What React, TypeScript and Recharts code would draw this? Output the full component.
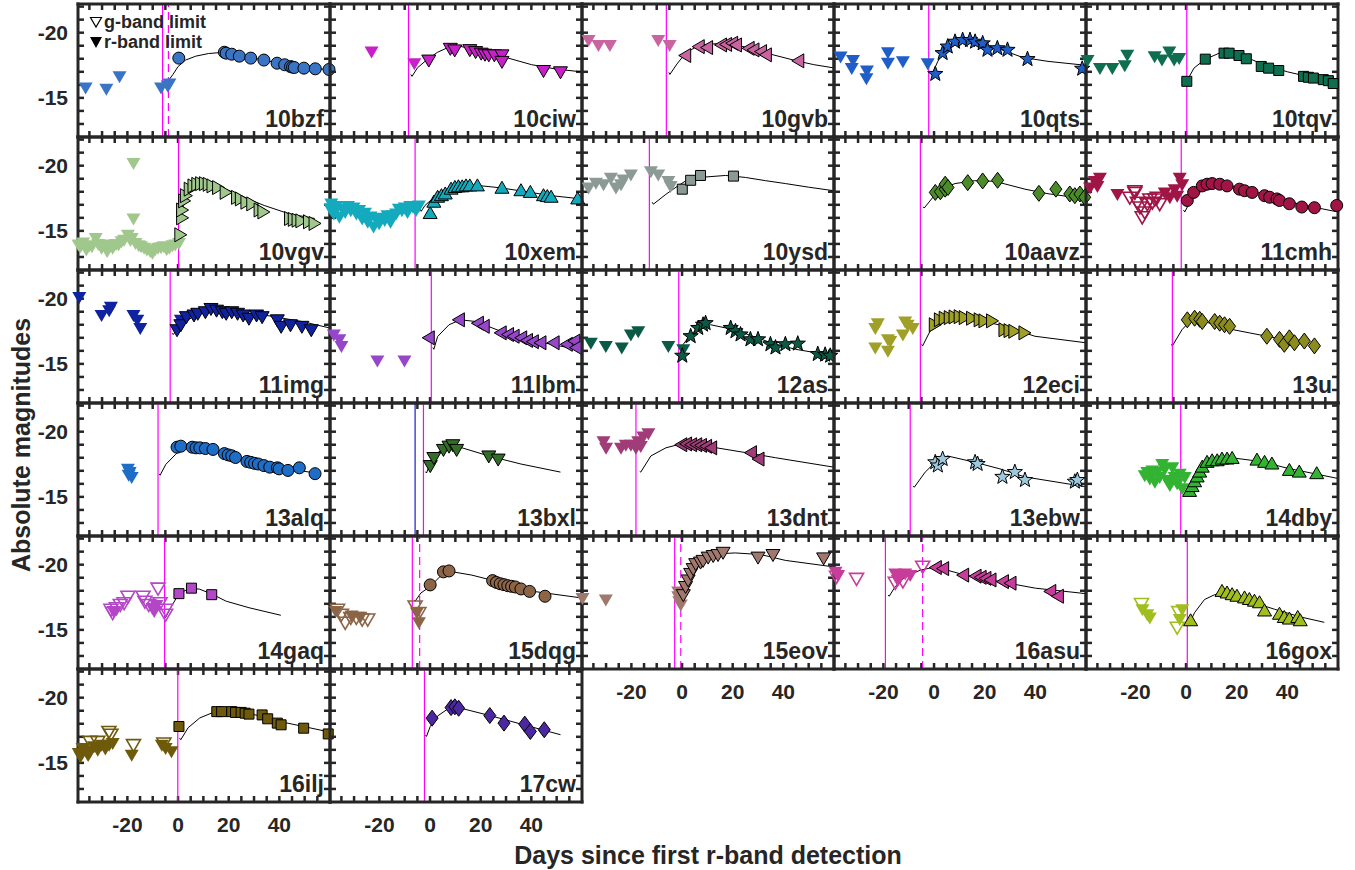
import React from 'react';
import { ComposedChart, Scatter, Line, XAxis, YAxis, ReferenceLine } from 'recharts';

type P = [number, number];

const FONT = "'Liberation Sans', Arial, Helvetica, sans-serif";
const INK = '#262626';
const X_DOMAIN: [number, number] = [-39.5, 60];
const Y_DOMAIN: [number, number] = [-22.2, -12];
const X_MINOR = [-35, -30, -25, -20, -15, -10, -5, 0, 5, 10, 15, 20, 25, 30, 35, 40, 45, 50, 55];
const Y_MINOR = [-22, -21, -20, -19, -18, -17, -16, -15, -14, -13];
const X_LABELS = [-20, 0, 20, 40];
const Y_LABELS = [-20, -15];

const names = ['10bzf', '10ciw', '10gvb', '10qts', '10tqv', '10vgv', '10xem', '10ysd', '10aavz', '11cmh',
  '11img', '11lbm', '12as', '12eci', '13u', '13alq', '13bxl', '13dnt', '13ebw', '14dby',
  '14gaq', '15dqg', '15eov', '16asu', '16gox', '16ilj', '17cw'];

const colors = ['#3a75c5', '#c820c8', '#c864a0', '#1f5ec8', '#0f6e50', '#a0c88c', '#14aabe', '#8c9a96', '#4b8c28', '#a01446',
  '#0f23a0', '#9646c8', '#0a5a46', '#a0a028', '#8c8c1e', '#1e6ec8', '#326e28', '#a03c78', '#9ec8dc', '#32b432',
  '#b446c8', '#8c6446', '#a0786e', '#c83c9b', '#a0be1e', '#6e5a0a', '#4b28a0'];

// o circle, s square, d diamond, p star, v ^ < > triangles
const markers = ['o', 'v', '<', 'p', 's', '>', '^', 's', 'd', 'o',
  'v', '<', 'p', '>', 'd', 'o', 'v', '<', 'p', '^',
  's', 'o', 'v', '<', '^', 's', 'd'];

// first-light epochs (days)
const epochSolid = [-6.1, -8.5, -6.2, -2.1, 0.3, 0.2, -5.9, -12.9, -5.4, -1.9,
  -3.1, 0.5, -1.3, -5.4, -5.4, -7.9, -2.6, -18.2, -9.4, -2.1,
  -5.3, -7.0, -2.9, -19.2, 0.5, -0.1, -2.2];
const epochDashed: (number | null)[] = [-3.8, null, null, null, null, null, null, null, null, null,
  null, null, null, null, null, null, null, null, null, null,
  null, -4.1, -0.5, -4.5, null, null, null];
const epochBlue: (number | null)[] = [null, null, null, null, null, null, null, null, null, null,
  null, null, null, null, null, null, -5.9, null, null, null,
  null, null, null, null, null, null, null];

// ---- 10bzf
const bzfDet: P[] = [[0.3, -18.05], [18.3, -18.5], [19, -18.43], [21.2, -18.35], [24.2, -18.2], [28.7, -18.05], [33.9, -17.9], [39.1, -17.66], [42.1, -17.54], [44.4, -17.4], [45.2, -17.36], [45.9, -17.33], [49.7, -17.28], [54.2, -17.23], [59.6, -17.18]];
const bzfR: P[] = [[-36.5, -15.8], [-28.3, -15.7], [-23.1, -16.65], [-6.7, -15.8], [-4.1, -15.95], [-3.4, -16.1]];
const bzfModel: P[] = [[-4.6, -16.45], [-4.1, -16.25], [-2, -16.8], [0, -17.4], [3, -17.9], [7, -18.2], [12, -18.4], [18, -18.5], [25, -18.25], [35, -17.85], [45, -17.45], [52, -17.3], [60, -17.15]];
// ---- 10ciw
const ciwDet: P[] = [[-0.5, -17.9], [8, -18.8], [9.75, -18.68], [15.7, -18.7], [18, -18.55], [20.2, -18.43], [21.7, -18.35], [23.2, -18.3], [25.4, -18.3], [28.4, -18.3], [28.4, -17.8], [44.8, -17.1], [51.5, -17.0]];
const ciwR: P[] = [[-23.1, -18.55], [-6.2, -17.66]];
const ciwModel: P[] = [[-7.6, -16.8], [-7.1, -16.65], [-5, -17.3], [-2, -17.8], [0, -18.1], [3, -18.5], [7.5, -18.9], [12, -18.95], [20, -18.6], [30, -18.1], [40, -17.55], [50, -17.2], [59.8, -17.0]];
// ---- 10gvb
const gvbDet: P[] = [[1.05, -18.25], [6.4, -18.93], [9.7, -18.86], [15.2, -19.06], [17.2, -19.1], [19.6, -19.19], [21.1, -19.06], [26.1, -18.8], [28, -18.68], [31, -18.55], [32.9, -18.3], [45.7, -17.84]];
const gvbR: P[] = [[-36.9, -19.44], [-33, -19.06], [-28.5, -19.06], [-9.4, -19.44], [-4.9, -19.06]];
const gvbModel: P[] = [[-5.2, -16.95], [-4.8, -16.8], [-2, -17.6], [1.4, -18.43], [5, -18.85], [9.3, -19.1], [17.2, -19.2], [25, -18.9], [35, -18.35], [45, -17.85], [52, -17.55], [59.9, -17.3]];
// ---- 10qts
const qtsDet: P[] = [[0.5, -16.83], [3.4, -18.43], [5.4, -18.93], [8.3, -19.3], [11.3, -19.43], [14.2, -19.43], [16.2, -19.3], [19.2, -19.18], [21.1, -18.68], [25, -18.8], [29, -18.68], [36.9, -17.97], [58.5, -17.23]];
const qtsR: P[] = [[-36.9, -18.17], [-32, -17.9], [-32.5, -17.3], [-26.7, -16.5], [-26.5, -17.1], [-18.2, -18.5], [-18.2, -17.7], [-12.3, -17.8], [-2.5, -17.66]];
const qtsModel: P[] = [[-1, -17.05], [-0.5, -16.95], [1.5, -17.8], [4, -18.6], [8, -19.2], [12.3, -19.4], [17, -19.35], [22, -19.0], [28, -18.6], [35, -18.1], [45, -17.8], [59.9, -17.5]];
// ---- 10tqv
const tqvDet: P[] = [[0.3, -16.27], [7.6, -17.97], [15, -18.43], [17, -18.43], [20.9, -18.25], [23.8, -18.0], [29.7, -17.41], [32.6, -17.28], [36.6, -17.1], [46.4, -16.65], [48.3, -16.58], [50.3, -16.52], [54.2, -16.4], [56.2, -16.32], [58.1, -16.1]];
const tqvR: P[] = [[-38.9, -17.9], [-34, -17.3], [-29.1, -17.3], [-24.2, -17.5], [-23.2, -18.3], [-12.4, -18.2], [-9.5, -17.95], [-6.6, -18.55], [-4.7, -17.95], [-2.7, -18.05]];
const tqvModel: P[] = [[0.3, -16.3], [3.2, -17.3], [7.5, -17.95], [13.1, -18.43], [20.9, -18.35], [30, -17.6], [40, -17.0], [50, -16.55], [60, -16.1]];
// ---- 10vgv
const vgvDet: P[] = [[1.1, -14.7], [1.8, -16.0], [1.8, -16.6], [2.6, -17.3], [3.3, -17.7], [4.8, -18.2], [6.3, -18.45], [7.8, -18.57], [9.3, -18.62], [10.8, -18.62], [12.3, -18.57], [13.8, -18.45], [16, -18.32], [19, -17.95], [23.5, -17.57], [25, -17.45], [27.2, -17.2], [29.5, -17.07], [32.4, -16.6], [33.9, -16.45], [44.4, -15.95], [45.9, -15.88], [47.4, -15.82], [48.9, -15.77], [51.9, -15.7], [54.1, -15.57]];
const vgvR: P[] = [[-39.3, -13.95], [-38.5, -13.82], [-37.5, -14.1], [-36.2, -13.58], [-35, -13.9], [-34, -13.82], [-32.5, -14.45], [-31.5, -14.0], [-30.2, -13.7], [-29, -13.95], [-28, -13.45], [-27, -13.8], [-25.8, -13.7], [-24.5, -14.0], [-23.5, -13.95], [-22.3, -14.2], [-21.3, -14.32], [-19.8, -14.7], [-18.8, -14.3], [-18.3, -14.45], [-17.6, -15.95], [-17.6, -20.2], [-16.8, -14.08], [-15.5, -13.9], [-14.6, -13.82], [-13.4, -13.7], [-12.3, -13.58], [-11, -13.45], [-10.1, -13.32], [-9, -13.6], [-7.9, -13.7], [-6.7, -13.75], [-5.6, -13.82], [-4.5, -13.6], [-3.4, -13.7], [-2.2, -13.9], [-1.1, -13.95], [0.35, -14.08]];
const vgvModel: P[] = [[-0.6, -15.9], [-0.2, -15.75], [1.5, -16.6], [4, -17.8], [7, -18.45], [10, -18.7], [14, -18.6], [20, -18.1], [27, -17.5], [34, -16.95], [44, -16.3], [54, -15.95]];
// ---- 10xem
const xemDet: P[] = [[0.05, -16.33], [1.5, -17.2], [3, -17.58], [4.5, -17.7], [6, -17.83], [8.3, -18.2], [9.8, -18.33], [11.2, -18.38], [12.7, -18.38], [14.2, -18.45], [15.7, -18.45], [18.7, -18.45], [28.4, -18.27], [35.9, -18.08], [39.6, -17.95], [44.8, -17.7], [46.3, -17.63], [47.8, -17.58], [58.3, -17.45]];
const xemR: P[] = [[-39.3, -16.7], [-39, -17.1], [-38, -16.33], [-37, -16.9], [-35.8, -16.08], [-34.6, -16.7], [-33.5, -16.45], [-32.4, -16.9], [-31.3, -16.58], [-30.2, -16.8], [-29.1, -16.33], [-28, -16.6], [-26.8, -15.95], [-25.7, -16.4], [-24.6, -15.7], [-23.5, -16.1], [-22.3, -15.33], [-21.2, -15.9], [-20.1, -15.58], [-19, -16.0], [-17.9, -15.83], [-16.8, -16.2], [-15.6, -15.7], [-14.5, -16.2], [-13.4, -16.33], [-12.3, -16.7], [-11.1, -16.58], [-10, -16.8], [-8.9, -16.45], [-7.8, -16.9], [-6.7, -16.83], [-5.5, -16.6], [-4.4, -16.95]];
const xemModel: P[] = [[-4, -16.7], [-3.5, -16.5], [-2, -16.95], [0, -17.3], [3, -17.75], [7, -18.15], [12, -18.4], [18, -18.5], [28, -18.3], [38, -18.0], [48, -17.7], [59.8, -17.45]];
// ---- 10ysd
const ysdDet: P[] = [[0.1, -18.2], [3.4, -18.88], [7.3, -19.25], [20.3, -19.2]];
const ysdR: P[] = [[-36.9, -18.33], [-34, -18.7], [-31, -18.58], [-28.1, -19.08], [-26.1, -18.33], [-24.1, -18.58], [-23.2, -18.95], [-20.2, -19.33], [-12.3, -19.58], [-9.4, -19.33], [-5.4, -18.83], [-4.5, -18.45]];
const ysdModel: P[] = [[-11.8, -17.2], [-11.3, -17.05], [-6.4, -17.8], [-2, -18.4], [1.4, -18.83], [7, -19.1], [17.2, -19.25], [25, -19.1], [33, -18.85], [40.8, -18.63], [50, -18.35], [59.9, -18.08]];
// ---- 10aavz
const aavzDet: P[] = [[0.5, -17.95], [2.5, -18.0], [4.4, -18.2], [4.4, -18.58], [5.5, -18.33], [13.3, -18.7], [19.2, -18.83], [25.1, -18.88], [41.4, -17.88], [48.1, -18.2], [53.6, -17.83], [55.6, -17.7], [57.6, -17.83], [59.5, -17.58]];
const aavzModel: P[] = [[-4.3, -16.85], [-3.9, -16.75], [0.5, -17.8], [4, -18.3], [8.3, -18.63], [16, -18.85], [24, -18.8], [35.9, -18.2], [45, -17.85], [59.9, -17.45]];
// ---- 11cmh
const cmhDet: P[] = [[0.5, -17.33], [3.0, -17.95], [6.4, -18.45], [8.3, -18.58], [10.3, -18.63], [13.3, -18.58], [16.2, -18.45], [21.1, -18.2], [23.1, -18.08], [26.1, -17.95], [31, -17.7], [33, -17.58], [35.9, -17.45], [36.9, -17.33], [40.8, -17.08], [45.7, -16.83], [50.7, -16.78], [59.5, -16.95]];
const cmhR: P[] = [[-37.9, -18.33], [-36, -18.83], [-34, -19.08], [-35, -18.45], [-27.1, -17.83], [-8.4, -17.95], [-6.4, -17.58], [-4.5, -18.2], [-2.5, -19.08], [-1.5, -18.58], [-3.5, -17.7]];
const cmhG: P[] = [[-22.2, -17.58], [-20.2, -17.95], [-19.2, -17.2], [-18.2, -16.83], [-17.3, -16.08], [-16.3, -16.45], [-15.3, -17.08], [-14.3, -17.45], [-13.3, -17.2], [-12.3, -17.45], [-11.4, -17.58], [-10.4, -17.08], [-20.2, -18.08]];
const cmhModel: P[] = [[-1, -16.6], [-0.5, -16.45], [1.5, -17.2], [5.4, -17.95], [9.4, -18.45], [15.4, -18.58], [25.3, -18.08], [35.2, -17.58], [45, -17.03], [60, -16.45]];
// ---- 11img
const imgDet: P[] = [[-0.4, -17.62], [1.1, -18.0], [3.3, -18.62], [6.3, -18.75], [7.8, -18.88], [10.8, -19.0], [13, -19.25], [15.2, -19.12], [17.5, -19.0], [19, -18.88], [21.2, -19.0], [23.5, -18.88], [25.7, -18.75], [28, -18.5], [31, -18.75], [33.2, -18.62], [39.2, -18.38], [40.7, -17.88], [44.4, -18.0], [48.9, -17.88], [52.6, -17.62]];
const imgR: P[] = [[-39, -20.12], [-30.2, -18.75], [-27.2, -19.12], [-26.5, -19.38], [-17.6, -18.75], [-16.1, -18.38], [-14.9, -17.75], [1.1, -18.38]];
const imgModel: P[] = [[-2.3, -17.35], [-1.9, -17.25], [1.1, -18.0], [7, -18.75], [13, -19.12], [22, -19.0], [33.9, -18.75], [48.9, -18.25], [60, -17.75]];
// ---- 11lbm
const lbmDet: P[] = [[-0.7, -17.0], [11.2, -18.38], [18.7, -18.12], [21, -17.88], [27.7, -17.38], [30.6, -17.25], [32.8, -17.12], [35.8, -17.0], [38.1, -16.8], [40.4, -16.7], [43.4, -16.62], [48.6, -16.62], [53.8, -16.5], [56.8, -16.75], [57.5, -16.25]];
const lbmR: P[] = [[-38, -17.25], [-35.8, -16.88], [-35, -16.38], [-20.8, -15.25], [-10.1, -15.25]];
const lbmModel: P[] = [[1.1, -16.25], [1.5, -16.12], [3, -17.1], [7.5, -18.0], [12, -18.38], [18, -18.25], [28, -17.5], [38, -16.88], [48, -16.5], [59.8, -16.05]];
// ---- 12as
const asDet: P[] = [[0.1, -15.62], [3.4, -17.12], [6.4, -17.75], [8.3, -18.0], [9.3, -18.12], [19.2, -17.75], [21.1, -17.5], [23.1, -17.25], [27, -16.88], [30, -16.88], [34.9, -16.5], [36.9, -16.25], [40.8, -16.5], [45.7, -16.55], [53.6, -15.75], [56.5, -15.7], [58.5, -15.62]];
const asR: P[] = [[-36, -16.62], [-30.1, -16.38], [-23.8, -16.25], [-20.2, -17.25], [-17.3, -17.5], [-5.4, -16.38], [0.5, -16.12]];
const asModel: P[] = [[-0.9, -16.35], [-0.5, -16.25], [3.4, -17.25], [7.4, -17.88], [11.3, -18.0], [21, -17.6], [36.9, -16.5], [44.8, -16.12], [59.9, -15.62]];
// ---- 12eci
const eciDet: P[] = [[0.5, -18.0], [2.5, -18.38], [4.4, -18.5], [6.4, -18.55], [8.3, -18.6], [10.3, -18.62], [12.3, -18.55], [15.2, -18.5], [18.2, -18.38], [20.1, -18.3], [23.1, -18.3], [28, -17.62], [30, -17.55], [31.9, -17.5], [35.9, -17.38]];
const eciR: P[] = [[-23.2, -17.75], [-22.2, -18.12], [-23.2, -16.25], [-18.2, -16.0], [-17.3, -16.75], [-12.3, -17.25], [-10.4, -18.0], [-11.4, -18.25], [-8.4, -17.75], [-18.2, -16.88]];
const eciModel: P[] = [[-4.9, -16.5], [-4.5, -16.38], [-1.6, -17.5], [4.4, -18.25], [12.3, -18.55], [20.1, -18.25], [28, -17.88], [39.8, -17.12], [59.9, -16.62]];
// ---- 13u
const uDet: P[] = [[0.5, -18.38], [3.4, -18.5], [5.4, -18.42], [6.4, -18.25], [11.3, -18.25], [13.3, -18.12], [15.2, -18.0], [17.2, -17.88], [31.9, -17.12], [36.9, -16.88], [38.8, -16.5], [40.8, -17.0], [42.8, -16.62], [46.7, -16.75], [50.7, -16.38]];
const uModel: P[] = [[-5.8, -16.5], [-5.4, -16.38], [-1.6, -17.62], [1.4, -18.25], [7.3, -18.25], [15.2, -17.75], [25, -17.38], [35, -17.0], [41, -16.8]];
// ---- 13alq
const alqDet: P[] = [[-0.4, -18.81], [1.1, -18.89], [5.6, -18.81], [7.1, -18.76], [8.6, -18.76], [10.8, -18.71], [13.8, -18.64], [18.3, -18.32], [19.8, -18.22], [21.2, -18.15], [22.7, -18.02], [27.2, -17.72], [28.7, -17.65], [30.2, -17.57], [31.7, -17.52], [33.9, -17.4], [36.2, -17.28], [39.2, -17.23], [39.9, -17.15], [43.4, -17.03], [47.9, -17.23], [54.1, -16.78]];
const alqR: P[] = [[-19.8, -17.15], [-19.1, -16.9], [-18.3, -16.53], [-19.5, -16.7]];
const alqModel: P[] = [[-7.5, -16.75], [-7.1, -16.66], [-4.8, -17.5], [-0.9, -18.27], [2, -18.8], [8, -18.78], [17.5, -18.32], [33, -17.5], [54.1, -16.83]];
// ---- 13bxl
const bxlDet: P[] = [[0.1, -17.4], [1.5, -18.02], [5.3, -18.64], [7.5, -18.89], [9, -19.0], [10.5, -18.64], [23.2, -18.14], [26.9, -17.9]];
const bxlModel: P[] = [[-1.8, -16.93], [-1.4, -16.83], [0.1, -17.6], [3, -18.39], [7.5, -18.9], [12, -18.8], [23, -18.15], [35.9, -17.52], [51.5, -16.9]];
// ---- 13dnt
const dntDet: P[] = [[-0.5, -19.0], [1.4, -19.06], [3.4, -19.0], [5.4, -19.0], [7.3, -18.95], [9.3, -18.88], [11.3, -18.76], [27, -18.39], [30, -17.9]];
const dntR: P[] = [[-31, -19.26], [-30, -18.76], [-24.1, -18.76], [-22.2, -19.0], [-18.2, -18.76], [-17.3, -19.26], [-15.3, -19.63], [-13.3, -19.88], [-16.3, -18.9], [-20.2, -19.0]];
const dntModel: P[] = [[-16.7, -16.95], [-16.3, -16.9], [-12.3, -18.14], [-6.4, -18.76], [-0.5, -19.06], [9.3, -18.9], [25, -18.4], [37, -18.0], [59.9, -17.28]];
// ---- 13ebw
const ebwDet: P[] = [[0.5, -17.65], [1.5, -17.4], [3.4, -17.9], [16.2, -17.65], [17.2, -17.52], [27, -16.53], [31.9, -16.9], [35.9, -16.29], [55.6, -16.16], [56.6, -16.29]];
const ebwModel: P[] = [[-8.2, -15.84], [-7.8, -15.74], [-3.5, -16.9], [0.5, -17.65], [5.3, -18.14], [16.2, -17.65], [26, -17.15], [35.9, -16.53], [59.5, -15.79]];
// ---- 14dby
const dbyDet: P[] = [[1.4, -15.42], [2.4, -15.79], [3.4, -16.16], [4.4, -16.53], [5.4, -16.9], [6.4, -17.28], [8.3, -17.65], [10.3, -17.77], [12.3, -17.77], [14.2, -17.9], [16.2, -17.9], [18.2, -17.95], [28, -17.82], [31, -17.65], [33.9, -17.52], [40.8, -17.03], [44.7, -16.9], [51.6, -16.78]];
const dbyR: P[] = [[-16.3, -16.66], [-15.3, -16.9], [-14.3, -16.41], [-13.3, -17.03], [-12.3, -16.16], [-11.4, -16.9], [-10.4, -16.53], [-9.4, -17.52], [-8.4, -17.15], [-7.4, -16.29], [-6.4, -15.92], [-5.4, -17.28], [-4.5, -16.53], [-3.5, -16.04], [-2.5, -16.78], [-1.5, -15.67], [-0.5, -16.53]];
const dbyModel: P[] = [[0.5, -15.5], [2, -16.1], [5, -17.0], [9, -17.6], [15, -17.9], [20, -17.95], [30, -17.7], [40, -17.2], [60, -16.41]];
// ---- 14gaq
const gaqDet: P[] = [[0.35, -17.78], [5.3, -18.2], [13.3, -17.7]];
const gaqR: P[] = [[-25.5, -16.45], [-10.1, -16.7], [-9.4, -16.45], [-8.5, -16.9]];
const gaqG: P[] = [[-26.5, -16.58], [-25.8, -16.33], [-24.3, -16.7], [-22.8, -16.95], [-21.3, -17.08], [-19.8, -17.58], [-13.8, -17.58], [-13.1, -17.2], [-11.6, -16.95], [-7.9, -18.2], [-7.1, -17.08], [-4.9, -16.58], [-4.9, -16.2]];
const gaqModel: P[] = [[-5.3, -16.05], [-4.9, -15.95], [-2.6, -16.8], [0.35, -17.78], [4.8, -18.2], [8.5, -18.12], [13, -17.78], [19, -17.2], [28, -16.7], [40.6, -16.12]];
// ---- 15dqg
const dqgDet: P[] = [[0.05, -18.45], [5.3, -19.45], [7.5, -19.52], [24.7, -18.78], [26.2, -18.64], [27.7, -18.54], [29.2, -18.47], [30.7, -18.39], [32.2, -18.34], [33.7, -18.29], [35.9, -18.14], [39.3, -17.95], [45.4, -17.58]];
const dqgR: P[] = [[-37.2, -16.45], [-31, -16.1], [-27.5, -16.0], [-5.2, -16.33], [-4.4, -15.58]];
const dqgG: P[] = [[-36.5, -16.58], [-35, -16.2], [-33.5, -15.58], [-31.3, -15.95], [-29.1, -15.95], [-26.8, -15.83], [-24.6, -15.83], [-5.9, -16.83], [-4.4, -16.33]];
const dqgModel: P[] = [[-6.3, -17.3], [-5.9, -17.2], [-3.6, -17.83], [0.05, -18.33], [4.5, -19.2], [9, -19.45], [16.5, -19.2], [24, -18.83], [39, -18.0], [59.8, -17.45]];
// ---- 15eov
const eovDet: P[] = [[0.5, -17.7], [1.4, -18.33], [2.4, -18.83], [3.4, -19.33], [4.4, -19.7], [5.4, -20.08], [7.3, -20.2], [8.3, -20.33], [10.3, -20.58], [12.3, -20.7], [14.2, -20.78], [16.2, -20.95], [30, -20.58], [35.9, -20.78], [55.9, -20.52]];
const eovR: P[] = [[-39.3, -17.45], [-30.1, -17.33], [-1.5, -17.58], [-1.1, -17.2], [-0.5, -16.95], [-1.5, -17.95]];
const eovModel: P[] = [[-1.9, -17.43], [-1.5, -17.33], [0.5, -18.2], [3.4, -19.33], [7.3, -20.2], [13.3, -20.83], [21, -20.9], [31, -20.78], [40.8, -20.33], [59.9, -19.83]];
// ---- 16asu
const asuDet: P[] = [[0.5, -19.78], [3.4, -19.7], [11.3, -19.2], [16.2, -19.12], [18.2, -19.03], [20.1, -18.95], [22.1, -18.83], [27, -18.7], [30, -18.58], [45.7, -17.95], [48.7, -17.58]];
const asuR: P[] = [[-38.9, -19.45], [-38, -19.2], [-15.3, -19.33], [-14.3, -18.83], [-13.3, -19.08], [-11.4, -19.33], [-9.4, -19.2]];
const asuG: P[] = [[-38.5, -19.1], [-30.6, -18.95], [-15.3, -18.65], [-12.3, -18.75], [-4.5, -19.88]];
const asuModel: P[] = [[-18.1, -17.68], [-17.7, -17.58], [-15.3, -18.33], [-11.4, -19.08], [-5.4, -19.58], [0.5, -19.83], [12.3, -19.2], [26, -18.7], [40, -18.2], [59.9, -17.78]];
// ---- 16gox
const goxDet: P[] = [[1.8, -15.7], [14.2, -17.95], [16.2, -17.83], [18.2, -17.7], [20.1, -17.58], [23.1, -17.45], [25, -17.33], [27, -17.2], [29, -17.08], [31, -16.45], [36.9, -16.2], [38.8, -15.95], [40.8, -15.83], [44.1, -15.95], [45.1, -15.7]];
const goxR: P[] = [[-17.2, -16.58], [-15.3, -16.2], [-14.3, -15.95], [-2.5, -15.83], [-1.5, -16.58]];
const goxG: P[] = [[-17.6, -17.02], [-2.9, -16.4], [-3.5, -15.2]];
const goxModel: P[] = [[1, -15.6], [1.4, -15.52], [3.4, -16.33], [7.3, -17.33], [11.3, -17.7], [15.2, -17.78], [25, -17.2], [35, -16.58], [45, -16.0], [54.6, -15.58]];
// ---- 16ilj
const iljDet: P[] = [[0.35, -17.79], [15.3, -18.93], [17.2, -18.93], [21.2, -18.93], [22.7, -18.87], [24.9, -18.87], [26.5, -18.81], [28, -18.74], [33.2, -18.68], [35.4, -18.38], [39.2, -18.05], [40.7, -17.92], [49.6, -17.66], [59.3, -17.22]];
const iljR: P[] = [[-39.2, -15.76], [-38.5, -15.5], [-37.7, -16.14], [-36.2, -15.9], [-35.5, -15.6], [-34.7, -15.89], [-33.2, -16.27], [-31.7, -16.0], [-30.2, -16.4], [-28.7, -16.1], [-27.2, -16.4], [-25.8, -16.52], [-18.3, -15.63], [-6.4, -16.4], [-4.9, -16.15], [-2.6, -15.89]];
const iljG: P[] = [[-34.7, -16.65], [-31.7, -16.65], [-27.3, -17.41], [-26.5, -17.2], [-17.6, -16.4], [-5.6, -16.52]];
const iljModel: P[] = [[0.6, -16.9], [1.1, -16.78], [4, -17.7], [8.6, -18.45], [13, -18.8], [19, -18.93], [25, -18.85], [33, -18.6], [42, -18.1], [60, -17.36]];
// ---- 17cw
const cwDet: P[] = [[0.8, -18.43], [8.3, -19.24], [9.8, -19.3], [11.3, -19.19], [23.6, -18.63], [29.2, -18.05], [37.4, -17.97], [39.6, -17.41], [45.1, -17.54]];
const cwModel: P[] = [[-1.8, -17.13], [-1.4, -17.03], [0.1, -17.8], [3, -18.6], [7.5, -19.2], [12, -19.2], [23.6, -18.63], [37.4, -17.9], [51.5, -17.16]];

const detections: P[][] = [bzfDet, ciwDet, gvbDet, qtsDet, tqvDet, vgvDet, xemDet, ysdDet, aavzDet, cmhDet,
  imgDet, lbmDet, asDet, eciDet, uDet, alqDet, bxlDet, dntDet, ebwDet, dbyDet,
  gaqDet, dqgDet, eovDet, asuDet, goxDet, iljDet, cwDet];
const rLimits: P[][] = [bzfR, ciwR, gvbR, qtsR, tqvR, vgvR, xemR, ysdR, [], cmhR,
  imgR, lbmR, asR, eciR, [], alqR, [], dntR, [], dbyR,
  gaqR, dqgR, eovR, asuR, goxR, iljR, []];
const gLimits: P[][] = [[], [], [], [], [], [], [], [], [], cmhG,
  [], [], [], [], [], [], [], [], [], [],
  gaqG, dqgG, [], asuG, goxG, iljG, []];
const models: P[][] = [bzfModel, ciwModel, gvbModel, qtsModel, tqvModel, vgvModel, xemModel, ysdModel, aavzModel, cmhModel,
  imgModel, lbmModel, asModel, eciModel, uModel, alqModel, bxlModel, dntModel, ebwModel, dbyModel,
  gaqModel, dqgModel, eovModel, asuModel, goxModel, iljModel, cwModel];

const toPts = (a: P[]) => a.map(([x, y]) => ({ x, y }));

// layout
const X0 = 78;
const Y0 = 4;
const PW = 252;
const PH = 133;
const M = 12;
const TICK = 6;
// inward tick length expressed in data units (6 px)
const TICK_X = (TICK * (X_DOMAIN[1] - X_DOMAIN[0])) / PW;
const TICK_Y = (TICK * (Y_DOMAIN[1] - Y_DOMAIN[0])) / PH;

function markerPath(kind: string, cx: number, cy: number): string {
  switch (kind) {
    case 'v': return `M${cx - 7},${cy - 5}L${cx + 7},${cy - 5}L${cx},${cy + 7}Z`;
    case '^': return `M${cx - 7},${cy + 5}L${cx + 7},${cy + 5}L${cx},${cy - 7}Z`;
    case '<': return `M${cx - 6},${cy}L${cx + 6},${cy - 7}L${cx + 6},${cy + 7}Z`;
    case '>': return `M${cx + 6},${cy}L${cx - 6},${cy - 7}L${cx - 6},${cy + 7}Z`;
    case 's': return `M${cx - 5},${cy - 5}h10v10h-10Z`;
    case 'd': return `M${cx},${cy - 8}L${cx + 6},${cy}L${cx},${cy + 8}L${cx - 6},${cy}Z`;
    case 'p': {
      let d = '';
      for (let k = 0; k < 10; k++) {
        const r = k % 2 === 0 ? 8 : 3.3;
        const a = -Math.PI / 2 + (k * Math.PI) / 5;
        d += `${k === 0 ? 'M' : 'L'}${cx + r * Math.cos(a)},${cy + r * Math.sin(a)}`;
      }
      return d + 'Z';
    }
    default: return `M${cx - 6},${cy}a6,6 0 1,0 12,0a6,6 0 1,0 -12,0Z`;
  }
}

const symbol = (kind: string, fill: string, stroke: string, sw: number) => (props: any) => {
  const { cx, cy } = props;
  if (cx == null || cy == null) return <g />;
  return <path d={markerPath(kind, cx, cy)} fill={fill} stroke={stroke} strokeWidth={sw} />;
};

const frame = { stroke: INK, strokeWidth: 3, strokeLinecap: 'square' as const };
const labelFont = { fontSize: 21, fontWeight: 'bold' as const, fill: INK, fontFamily: FONT };

// bottom tick labels, drawn below the frame
const xTick = (show: boolean) => (props: any) => {
  const { x, y, payload } = props;
  if (!show || !X_LABELS.includes(payload.value)) return <g />;
  return (
    <text x={x} y={y + TICK + 15} dy="0.71em" textAnchor="middle" {...labelFont}>{payload.value}</text>
  );
};

// left tick labels, drawn left of the frame
const yTick = (show: boolean) => (props: any) => {
  const { x, y, payload } = props;
  if (!show || !Y_LABELS.includes(payload.value)) return <g />;
  return (
    <text x={x - TICK - 10} y={y} dy="0.355em" textAnchor="end" {...labelFont}>{payload.value}</text>
  );
};

const noTick = () => <g />;

function SubPanel({ i }: { i: number }) {
  const col = i % 5;
  const row = Math.floor(i / 5);
  const isLeft = col === 0;
  const isBottom = (col < 2 && row === 5) || (col >= 2 && row === 4);
  const padL = 70;
  const padB = 44;
  const w = padL + PW + M;
  const h = M + PH + padB;
  const left = X0 + col * PW - padL;
  const top = Y0 + row * PH - M;
  const color = colors[i];
  const kind = markers[i];
  const dashed = epochDashed[i];
  const blue = epochBlue[i];
  const [x0, x1] = X_DOMAIN;
  const [yTop, yBot] = Y_DOMAIN;

  return (
    <div style={{ position: 'absolute', left, top }}>
      <ComposedChart width={w} height={h} margin={{ top: M, right: M, bottom: padB, left: padL }}>
        <XAxis xAxisId={0} type="number" dataKey="x" domain={X_DOMAIN} ticks={X_MINOR} interval={0}
          orientation="bottom" mirror height={1} tick={xTick(isBottom)} tickSize={TICK} tickMargin={0}
          axisLine={frame} tickLine={false} />
        <XAxis xAxisId="top" type="number" dataKey="x" domain={X_DOMAIN} ticks={X_MINOR} interval={0}
          orientation="top" mirror height={1} tick={noTick} tickSize={TICK} tickMargin={0}
          axisLine={frame} tickLine={false} />
        <YAxis yAxisId={0} type="number" dataKey="y" domain={Y_DOMAIN} reversed ticks={Y_MINOR} interval={0}
          orientation="left" mirror width={1} tick={yTick(isLeft)} tickSize={TICK} tickMargin={0}
          axisLine={frame} tickLine={false} />
        <YAxis yAxisId="right" type="number" dataKey="y" domain={Y_DOMAIN} reversed ticks={Y_MINOR} interval={0}
          orientation="right" mirror width={1} tick={noTick} tickSize={TICK} tickMargin={0}
          axisLine={frame} tickLine={false} />
        {X_MINOR.map((t) => (
          <ReferenceLine key={'tb' + t} segment={[{ x: t, y: yBot }, { x: t, y: yBot - TICK_Y }]} stroke={INK} strokeWidth={2.5} />
        ))}
        {X_MINOR.map((t) => (
          <ReferenceLine key={'tt' + t} segment={[{ x: t, y: yTop }, { x: t, y: yTop + TICK_Y }]} stroke={INK} strokeWidth={2.5} />
        ))}
        {Y_MINOR.map((t) => (
          <ReferenceLine key={'tl' + t} segment={[{ x: x0, y: t }, { x: x0 + TICK_X, y: t }]} stroke={INK} strokeWidth={2.5} />
        ))}
        {Y_MINOR.map((t) => (
          <ReferenceLine key={'tr' + t} segment={[{ x: x1, y: t }, { x: x1 - TICK_X, y: t }]} stroke={INK} strokeWidth={2.5} />
        ))}
        <Line data={toPts(models[i])} dataKey="y" type="linear" stroke="#000" strokeWidth={1} dot={false}
          activeDot={false} isAnimationActive={false} />
        {rLimits[i].length > 0 && (
          <Scatter data={toPts(rLimits[i])} fill={color} isAnimationActive={false}
            shape={symbol('v', color, 'none', 0)} />
        )}
        {gLimits[i].length > 0 && (
          <Scatter data={toPts(gLimits[i])} fill="none" isAnimationActive={false}
            shape={symbol('v', 'none', color, 1.6)} />
        )}
        <Scatter data={toPts(detections[i])} fill={color} isAnimationActive={false}
          shape={symbol(kind, color, '#000', 1)} />
        {blue != null && <ReferenceLine x={blue} stroke="#1a1acd" strokeWidth={1.2} />}
        <ReferenceLine x={epochSolid[i]} stroke="#ff00ff" strokeWidth={1.2} />
        {dashed != null && <ReferenceLine x={dashed} stroke="#ff00ff" strokeWidth={1.2} strokeDasharray="8 5" />}
      </ComposedChart>
    </div>
  );
}

export default function App() {
  return (
    <div style={{ position: 'absolute', left: 0, top: 0, width: 1355, height: 870, background: '#fff', fontFamily: FONT, color: INK }}>
      <style>{'.recharts-surface{overflow:visible}.recharts-wrapper{overflow:visible}'}</style>
      {names.map((_, i) => <SubPanel key={i} i={i} />)}
      {names.map((n, i) => {
        const col = i % 5;
        const row = Math.floor(i / 5);
        return (
          <div key={'n' + i} style={{
            position: 'absolute', left: X0 + col * PW, width: PW - 6, top: Y0 + row * PH + PH - 31,
            textAlign: 'right', fontSize: 23, fontWeight: 'bold', lineHeight: '26px', pointerEvents: 'none',
          }}>{n}</div>
        );
      })}
      <div style={{ position: 'absolute', left: 89, top: 12, fontSize: 18, fontWeight: 'bold', lineHeight: '20px' }}>
        <div style={{ display: 'flex', alignItems: 'center' }}>
          <svg width={14} height={14} style={{ marginRight: 1 }}><path d="M1.5,2.5L12.5,2.5L7,12Z" fill="none" stroke="#000" strokeWidth={1.2} /></svg>
          <span>g-band limit</span>
        </div>
        <div style={{ display: 'flex', alignItems: 'center' }}>
          <svg width={14} height={14} style={{ marginRight: 1 }}><path d="M1,2L13,2L7,13Z" fill="#000" /></svg>
          <span>r-band limit</span>
        </div>
      </div>
      <div style={{
        position: 'absolute', left: 21, top: 445, transform: 'translate(-50%, -50%) rotate(-90deg)',
        fontSize: 25, fontWeight: 'bold', whiteSpace: 'nowrap',
      }}>Absolute magnitudes</div>
      <div style={{
        position: 'absolute', left: 708, top: 855, transform: 'translate(-50%, -50%)',
        fontSize: 25, fontWeight: 'bold', whiteSpace: 'nowrap',
      }}>Days since first r-band detection</div>
    </div>
  );
}
